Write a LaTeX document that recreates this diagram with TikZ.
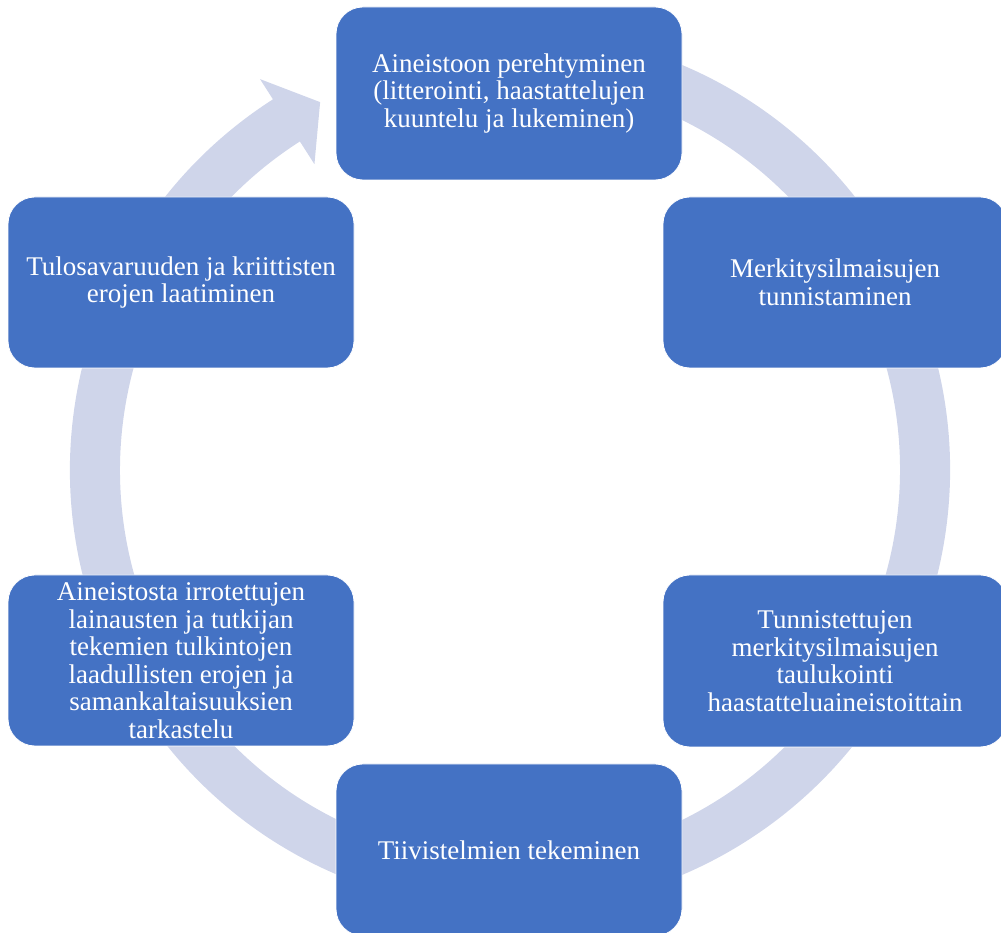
\documentclass[tikz,border=0pt]{standalone}
\usepackage{fontspec}
\setmainfont{Liberation Serif}
\usetikzlibrary{calc}
\definecolor{boxblue}{HTML}{4472C4}
\definecolor{ringc}{HTML}{CFD5EA}
\tikzset{
  stepbox/.style={draw=white, line width=0.8pt, fill=boxblue, rounded corners=27pt,
    text=white, align=center, inner sep=0pt,
    font=\fontsize{27}{27.5}\selectfont},
}
\begin{document}
\begin{tikzpicture}[x=1pt,y=1pt]
\useasboundingbox (0,0) rectangle (1001,933);
\coordinate (C) at (510,463);
% circular arrow
\fill[ringc] ($(C)+(75:440pt)$) arc[start angle=75, end angle=-237.4, radius=440pt]
  -- ($(C)+(-237.4:464pt)$) -- ($(C)+(-242.7:414pt)$) -- ($(C)+(-237.4:363pt)$)
  -- ($(C)+(-237.4:390pt)$) arc[start angle=-237.4, end angle=75, radius=390pt] -- cycle;
% boxes
\node[stepbox, minimum width=346pt, minimum height=173pt] (n1) at (509,839.5)
  {Aineistoon perehtyminen\\(litterointi, haastattelujen\\kuuntelu ja lukeminen)};
\node[stepbox, minimum width=344pt, minimum height=171pt] (n2) at (835,650.5)
  {Merkitysilmaisujen\\tunnistaminen};
\node[stepbox, minimum width=344pt, minimum height=172pt] (n3) at (835,272)
  {Tunnistettujen\\merkitysilmaisujen\\taulukointi\\haastatteluaineistoittain};
\node[stepbox, minimum width=346pt, minimum height=172pt] (n4) at (509,83)
  {Tiivistelmien tekeminen};
\node[stepbox, minimum width=346pt, minimum height=171pt] (n5) at (181,272.5)
  {Aineistosta irrotettujen\\lainausten ja tutkijan\\tekemien tulkintojen\\laadullisten erojen ja\\samankaltaisuuksien\\tarkastelu};
\node[stepbox, minimum width=346pt, minimum height=171pt] (n6) at (181,650.5)
  {Tulosavaruuden ja kriittisten\\erojen laatiminen};
\end{tikzpicture}
\end{document}
